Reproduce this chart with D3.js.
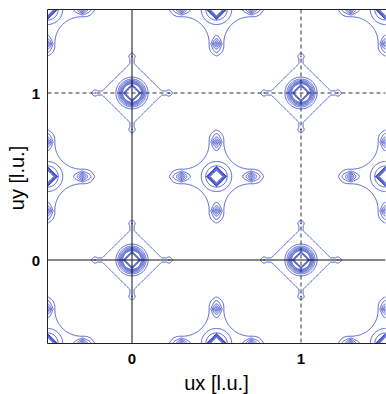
<!DOCTYPE html>
<html><head><meta charset="utf-8">
<script src="https://cdn.jsdelivr.net/npm/d3@7"></script>
<style>body{margin:0;background:#fff} svg{display:block}</style>
</head><body>
<script>
// ---------- data ----------
const xTicks = [0, 1];
const yTicks = [0, 1];
const xDomain = [-0.5, 1.5];
const yDomain = [-0.5, 1.5];
const solidX = [0], solidY = [0];
const dashedX = [1], dashedY = [1];
const xTitle = "ux [l.u.]";
const yTitle = "uy [l.u.]";
// integer (Bragg) peak positions
const braggPeaks = [[0,0],[1,0],[0,1],[1,1]];
// half-integer peak positions
const halfPeaks = [[-0.5,-0.5],[0.5,-0.5],[1.5,-0.5],[-0.5,0.5],[0.5,0.5],[1.5,0.5],[-0.5,1.5],[0.5,1.5],[1.5,1.5]];
// contour levels
const levels = [0.05, 0.1, 0.2, 0.3, 0.4, 0.5, 0.6, 0.7, 1.2, 1.4, 1.6, 1.8];
// peak shape parameters (l.u.)
const braggRing = [1.867, 0.0393];          // amplitude, sigma
const braggCore = [2, 0.054];               // amplitude, diamond radius
const braggHalo = [0.19, 0.014, 0.205];     // diamond radius, arm half width, arm length
const braggBulb = [0.218, 0.022, 0.021];    // position, half length, half width
const braggDot  = [0.12, 0.006];            // amplitude, sigma
const halfRing  = [0.29, 0.0881];           // amplitude, scale
const halfCore  = [2, 0.05];                // amplitude, diamond radius
const halfSat   = [0.206, 0.55, 0.03, 0.025]; // position, amplitude, half length, width
const halfStar  = [0.045, 0.155, 0.215, 0.06]; // arm half width, fillet radius, arm end, tip half length
const plateau = 0.08;

// ---------- layout ----------
const W = 386, H = 394;
const X0 = 47.5, X1 = 385.5, Y0 = 9.5, Y1 = 343.5;
const xs = d3.scaleLinear().domain(xDomain).range([X0, X1]);
const ys = d3.scaleLinear().domain(yDomain).range([Y1, Y0]);

function sig(g, eps){ const z = g/eps; if (z > 40) return 0; if (z < -40) return 1; return 1/(1+Math.exp(z)); }
const S2 = Math.SQRT2;

function braggField(dx, dy){
  const ad = Math.abs(dx), bd = Math.abs(dy);
  const r2 = dx*dx + dy*dy;
  const G = braggRing[0]*Math.exp(-r2/(2*braggRing[1]*braggRing[1]));
  const D = braggCore[0]*sig((ad+bd-braggCore[1])/S2, 0.004);
  const gD = (ad+bd-braggHalo[0])/S2;
  const gAH = Math.max(ad-braggHalo[2], bd-braggHalo[1]);
  const gAV = Math.max(bd-braggHalo[2], ad-braggHalo[1]);
  const uH = Math.abs(ad-braggBulb[0])/braggBulb[1] + (bd/braggBulb[2])**2;
  const uV = Math.abs(bd-braggBulb[0])/braggBulb[1] + (ad/braggBulb[2])**2;
  const g = Math.min(gD, gAH, gAV, (uH-1)*braggBulb[2], (uV-1)*braggBulb[2]);
  const P = plateau*sig(g, 0.002);
  const s2 = 2*braggDot[1]*braggDot[1];
  const dots = braggDot[0]*Math.max(Math.exp(-((ad-braggBulb[0])**2+bd*bd)/s2), Math.exp(-((bd-braggBulb[0])**2+ad*ad)/s2));
  return Math.max(G, D, P, dots);
}
function halfField(dx, dy){
  const ad = Math.abs(dx), bd = Math.abs(dy);
  const r = Math.hypot(dx, dy);
  const G = halfRing[0]*Math.exp(-Math.pow(r/halfRing[1], 3));
  const D = halfCore[0]*sig((ad+bd-halfCore[1])/S2, 0.004);
  const sH = halfSat[1]*Math.exp(-(Math.abs(ad-halfSat[0])/halfSat[2] + (bd/halfSat[3])**2));
  const sV = halfSat[1]*Math.exp(-(Math.abs(bd-halfSat[0])/halfSat[2] + (ad/halfSat[3])**2));
  // star outline: plus with concave fillets, arms capped by ellipses
  const w = halfStar[0], R = halfStar[1], c = w + R;
  let g = (ad < c && bd < c) ? R - Math.hypot(ad-c, bd-c) : Math.min(ad, bd) - w;
  g = Math.max(g, r - halfStar[2]);
  const eH = (Math.hypot((ad-halfStar[2])/halfStar[3], bd/w) - 1)*w;
  const eV = (Math.hypot((bd-halfStar[2])/halfStar[3], ad/w) - 1)*w;
  g = Math.min(g, eH, eV);
  const P = plateau*sig(g, 0.002);
  return Math.max(G, D, sH, sV, P);
}

// ---------- grid ----------
const step = 0.005, gx0 = -0.55, gy0 = -0.55;
const n = Math.round(2.1/step) + 1, m = n;
const values = new Float64Array(n*m);
for (let j = 0; j < m; j++){
  const y = gy0 + j*step;
  for (let i = 0; i < n; i++){
    const x = gx0 + i*step;
    let v = 0;
    for (const p of braggPeaks){ const dx = x-p[0], dy = y-p[1]; if (Math.abs(dx) < 0.3 && Math.abs(dy) < 0.3) v = Math.max(v, braggField(dx, dy)); }
    for (const p of halfPeaks){ const dx = x-p[0], dy = y-p[1]; if (Math.abs(dx) < 0.33 && Math.abs(dy) < 0.33) v = Math.max(v, halfField(dx, dy)); }
    values[j*n+i] = v;
  }
}
const contours = d3.contours().size([n, m]).thresholds(levels)(values);
const proj = d3.geoTransform({point(px, py){ this.stream.point(xs(gx0 + (px-0.5)*step), ys(gy0 + (py-0.5)*step)); }});
const path = d3.geoPath(proj);

// ---------- draw ----------
const svg = d3.select("body").append("svg").attr("width", W).attr("height", H);
svg.append("defs").append("clipPath").attr("id","clip").append("rect")
  .attr("x", X0).attr("y", Y0).attr("width", X1-X0).attr("height", Y1-Y0);
const plot = svg.append("g").attr("clip-path","url(#clip)");
plot.selectAll("path.c").data(contours).join("path").attr("class","c")
  .attr("d", path).attr("fill","none").attr("stroke","#4050cc").attr("stroke-width",0.9).attr("stroke-linejoin","round");

plot.selectAll("line.sx").data(solidX).join("line").attr("x1",d=>xs(d)).attr("x2",d=>xs(d)).attr("y1",Y0).attr("y2",Y1).attr("stroke","#111").attr("stroke-width",1);
plot.selectAll("line.sy").data(solidY).join("line").attr("y1",d=>ys(d)).attr("y2",d=>ys(d)).attr("x1",X0).attr("x2",X1).attr("stroke","#111").attr("stroke-width",1);
plot.selectAll("line.dx").data(dashedX).join("line").attr("x1",d=>xs(d)).attr("x2",d=>xs(d)).attr("y1",Y0).attr("y2",Y1).attr("stroke","#333").attr("stroke-width",1).attr("stroke-dasharray","4,3");
plot.selectAll("line.dy").data(dashedY).join("line").attr("y1",d=>ys(d)).attr("y2",d=>ys(d)).attr("x1",X0).attr("x2",X1).attr("stroke","#333").attr("stroke-width",1).attr("stroke-dasharray","4,3");

svg.append("path").attr("d",`M${W},${Y0}H${X0}V${Y1}H${W}`).attr("fill","none").attr("stroke","#222").attr("stroke-width",1);

const font = "'Liberation Sans', Arial, sans-serif";
svg.selectAll("text.xt").data(xTicks).join("text").attr("x",d=>xs(d)).attr("y",363.5)
  .attr("text-anchor","middle").attr("font-family",font).attr("font-size",15).attr("font-weight","bold").text(d=>d);
svg.selectAll("text.yt").data(yTicks).join("text").attr("x",40).attr("y",d=>ys(d)+5.5)
  .attr("text-anchor","end").attr("font-family",font).attr("font-size",15).attr("font-weight","bold").text(d=>d);
svg.append("text").attr("x",(X0+X1)/2).attr("y",390).attr("text-anchor","middle")
  .attr("font-family",font).attr("font-size",20).text(xTitle);
svg.append("text").attr("transform",`translate(24,178) rotate(-90)`).attr("text-anchor","middle")
  .attr("font-family",font).attr("font-size",20).text(yTitle);
</script>
</body></html>
